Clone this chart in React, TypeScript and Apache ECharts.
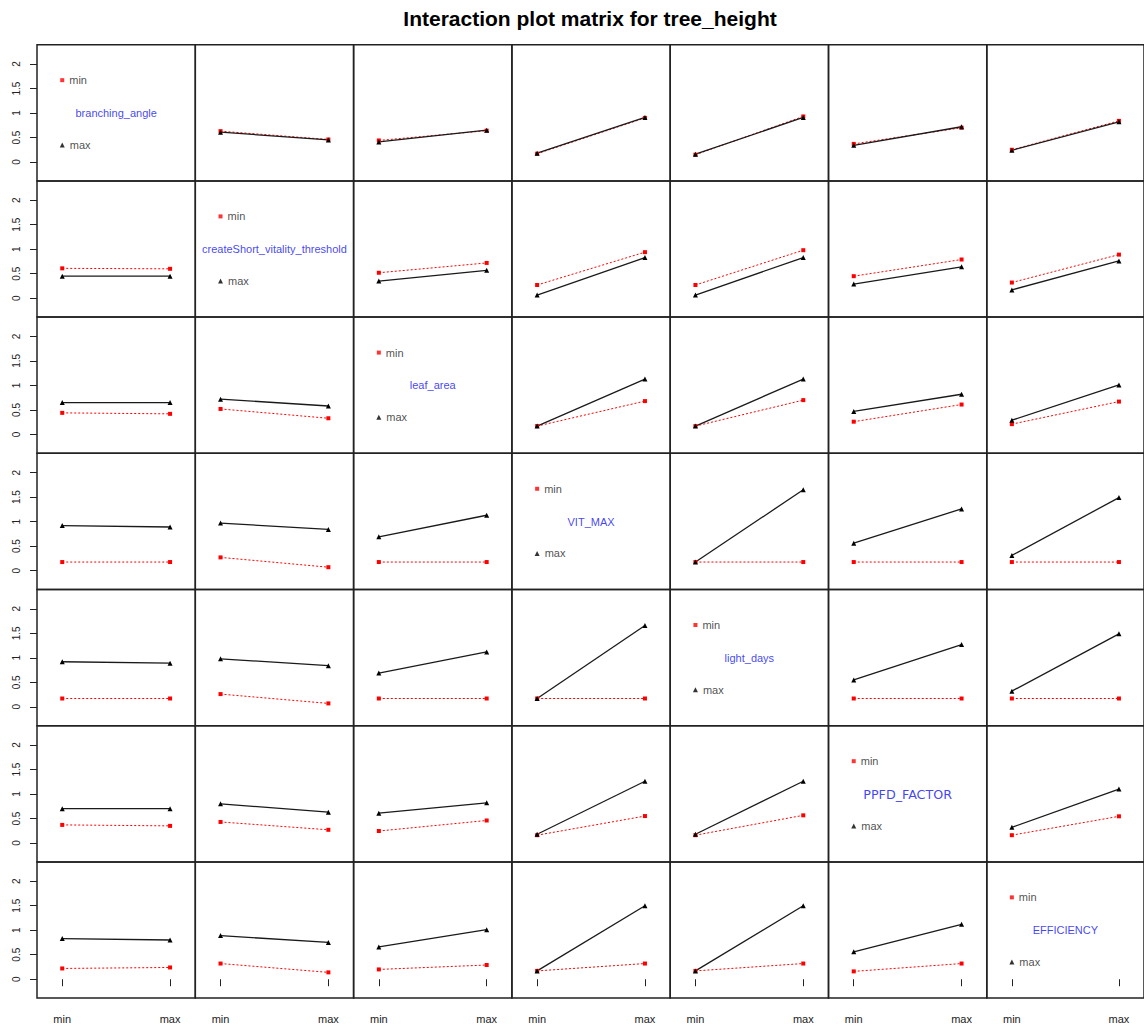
import React, { useEffect, useRef } from "react";
import * as echarts from "echarts";

// Factor names (row = trace factor, column = x-axis factor)
const variables = [
  "branching_angle",
  "createShort_vitality_threshold",
  "leaf_area",
  "VIT_MAX",
  "light_days",
  "PPFD_FACTOR",
  "EFFICIENCY",
];
const levelLabels = ["min", "max"];
const xLevelPositions = [1, 2];
const yTickValues = [0, 0.5, 1, 1.5, 2];

// Mean tree_height for trace level "min" (red, dotted); pairs = [x at min, x at max]
const branchingAngleMin = [null, [0.63, 0.46], [0.44, 0.64], [0.17, 0.9], [0.15, 0.93], [0.37, 0.7], [0.25, 0.84]];
const createShortMin = [[0.61, 0.6], null, [0.52, 0.72], [0.27, 0.94], [0.27, 0.98], [0.45, 0.79], [0.32, 0.89]];
const leafAreaMin = [[0.44, 0.42], [0.52, 0.33], null, [0.17, 0.68], [0.17, 0.7], [0.26, 0.61], [0.21, 0.67]];
const vitMaxMin = [[0.175, 0.175], [0.27, 0.07], [0.175, 0.175], null, [0.175, 0.175], [0.175, 0.175], [0.175, 0.175]];
const lightDaysMin = [[0.17, 0.17], [0.26, 0.07], [0.17, 0.17], [0.17, 0.17], null, [0.17, 0.17], [0.17, 0.17]];
const ppfdFactorMin = [[0.37, 0.35], [0.43, 0.27], [0.245, 0.46], [0.16, 0.55], [0.16, 0.565], null, [0.16, 0.545]];
const efficiencyMin = [[0.22, 0.24], [0.32, 0.14], [0.2, 0.29], [0.17, 0.32], [0.17, 0.32], [0.16, 0.32], null];

// Mean tree_height for trace level "max" (black, solid)
const branchingAngleMax = [null, [0.61, 0.45], [0.41, 0.65], [0.18, 0.91], [0.16, 0.91], [0.34, 0.72], [0.24, 0.82]];
const createShortMax = [[0.45, 0.45], null, [0.35, 0.57], [0.065, 0.83], [0.065, 0.83], [0.29, 0.64], [0.17, 0.76]];
const leafAreaMax = [[0.65, 0.65], [0.72, 0.58], null, [0.17, 1.13], [0.17, 1.13], [0.47, 0.82], [0.29, 1.01]];
const vitMaxMax = [[0.92, 0.89], [0.97, 0.84], [0.69, 1.13], null, [0.175, 1.65], [0.56, 1.26], [0.31, 1.49]];
const lightDaysMax = [[0.92, 0.89], [0.98, 0.84], [0.69, 1.12], [0.17, 1.66], null, [0.55, 1.27], [0.32, 1.49]];
const ppfdFactorMax = [[0.7, 0.7], [0.8, 0.63], [0.61, 0.82], [0.18, 1.26], [0.18, 1.26], null, [0.32, 1.1]];
const efficiencyMax = [[0.83, 0.8], [0.89, 0.75], [0.66, 1.01], [0.17, 1.5], [0.17, 1.5], [0.56, 1.12], null];

const traceMinRows = [branchingAngleMin, createShortMin, leafAreaMin, vitMaxMin, lightDaysMin, ppfdFactorMin, efficiencyMin];
const traceMaxRows = [branchingAngleMax, createShortMax, leafAreaMax, vitMaxMax, lightDaysMax, ppfdFactorMax, efficiencyMax];

// Legend placement within diagonal panels (data coords)
const LEGEND_MIN_Y = 1.67;
const LEGEND_MAX_Y = 0.35;
const NAME_Y = 1.0;

const TITLE = "Interaction plot matrix for tree_height";

const PLOT_LEFT = 37;
const PLOT_TOP = 44.7;
const CELL_W = 158.3;
const CELL_H = 136.2;
const X_MIN = 0.766;
const X_MAX = 2.234;
const Y_MIN = -0.385;
const Y_MAX = 2.394;
const FONT = "'Liberation Sans', Arial, sans-serif";

function buildOption() {
  const n = variables.length;
  const grids: any[] = [];
  const xAxes: any[] = [];
  const yAxes: any[] = [];
  const series: any[] = [];

  for (let r = 0; r < n; r++) {
    for (let c = 0; c < n; c++) {
      const idx = r * n + c;
      const isBottom = r === n - 1;
      const isLeft = c === 0;
      grids.push({
        left: PLOT_LEFT + c * CELL_W,
        top: PLOT_TOP + r * CELL_H,
        width: CELL_W,
        height: CELL_H,
        show: true,
        borderColor: "#222",
        borderWidth: 1.5,
        backgroundColor: "transparent",
        containLabel: false,
      });
      xAxes.push({
        type: "value",
        gridIndex: idx,
        min: X_MIN,
        max: X_MAX,
        splitLine: { show: false },
        axisLine: { show: false },
        axisTick: {
          show: isBottom,
          customValues: xLevelPositions,
          length: 7,
          inside: false,
          lineStyle: { color: "#222", width: 1 },
        },
        axisLabel: {
          show: isBottom,
          customValues: xLevelPositions,
          formatter: (v: number) => levelLabels[xLevelPositions.indexOf(v)] ?? "",
          margin: 15,
          fontSize: 11,
          color: "#222",
          fontFamily: FONT,
        },
      });
      yAxes.push({
        type: "value",
        gridIndex: idx,
        min: Y_MIN,
        max: Y_MAX,
        splitLine: { show: false },
        axisLine: { show: false },
        axisTick: {
          show: isLeft,
          customValues: yTickValues,
          length: 7,
          inside: false,
          lineStyle: { color: "#222", width: 1 },
        },
        axisLabel: {
          show: isLeft,
          customValues: yTickValues,
          rotate: 90,
          formatter: (v: number) => String(v),
          margin: 16,
          fontSize: 10,
          color: "#222",
          fontFamily: FONT,
        },
      });

      if (r === c) {
        series.push({
          type: "scatter",
          xAxisIndex: idx,
          yAxisIndex: idx,
          data: [[xLevelPositions[0], LEGEND_MIN_Y]],
          symbol: "rect",
          symbolSize: 4,
          itemStyle: { color: "#ff0000" },
          label: {
            show: true,
            position: "right",
            distance: 5,
            formatter: levelLabels[0],
            color: "#222",
            fontSize: 11,
            fontFamily: FONT,
          },
          silent: true,
        });
        series.push({
          type: "scatter",
          xAxisIndex: idx,
          yAxisIndex: idx,
          data: [[xLevelPositions[0], LEGEND_MAX_Y]],
          symbol: "triangle",
          symbolSize: 5,
          itemStyle: { color: "#000" },
          label: {
            show: true,
            position: "right",
            distance: 5,
            formatter: levelLabels[1],
            color: "#222",
            fontSize: 11,
            fontFamily: FONT,
          },
          silent: true,
        });
        const isPPFD = variables[r] === "PPFD_FACTOR";
        series.push({
          type: "scatter",
          xAxisIndex: idx,
          yAxisIndex: idx,
          data: [[(xLevelPositions[0] + xLevelPositions[1]) / 2, NAME_Y]],
          symbolSize: 1,
          itemStyle: { color: "rgba(0,0,0,0)" },
          label: {
            show: true,
            position: "inside",
            formatter: variables[r],
            color: "#1010f0",
            fontSize: isPPFD ? 12.7 : 11,
            fontFamily: isPPFD ? "'DejaVu Sans', sans-serif" : FONT,
          },
          silent: true,
        });
      } else {
        const minPair = traceMinRows[r][c] as number[];
        const maxPair = traceMaxRows[r][c] as number[];
        series.push({
          type: "line",
          xAxisIndex: idx,
          yAxisIndex: idx,
          data: xLevelPositions.map((x, k) => [x, minPair[k]]),
          symbol: "rect",
          symbolSize: 4,
          showSymbol: true,
          lineStyle: { color: "#ff0000", width: 1, type: [2, 2] },
          itemStyle: { color: "#ff0000" },
          silent: true,
        });
        series.push({
          type: "line",
          xAxisIndex: idx,
          yAxisIndex: idx,
          data: xLevelPositions.map((x, k) => [x, maxPair[k]]),
          symbol: "triangle",
          symbolSize: 5,
          showSymbol: true,
          lineStyle: { color: "#1a1a1a", width: 1.3 },
          itemStyle: { color: "#000" },
          silent: true,
        });
      }
    }
  }

  return {
    animation: false,
    backgroundColor: "#ffffff",
    grid: grids,
    xAxis: xAxes,
    yAxis: yAxes,
    series,
    graphic: [
      {
        type: "text",
        x: 590,
        y: 18,
        style: {
          text: TITLE,
          textAlign: "center",
          textVerticalAlign: "middle",
          fontSize: 21,
          fontWeight: "bold",
          fontFamily: FONT,
          fill: "#000",
        },
      },
    ],
  };
}

export default function App() {
  const ref = useRef<HTMLDivElement>(null);
  useEffect(() => {
    if (!ref.current) return;
    const chart = echarts.init(ref.current, null, { renderer: "svg" });
    chart.setOption(buildOption() as any);
    return () => chart.dispose();
  }, []);
  return (
    <div
      ref={ref}
      style={{ position: "absolute", left: 0, top: 0, width: 1144, height: 1032 }}
    />
  );
}
